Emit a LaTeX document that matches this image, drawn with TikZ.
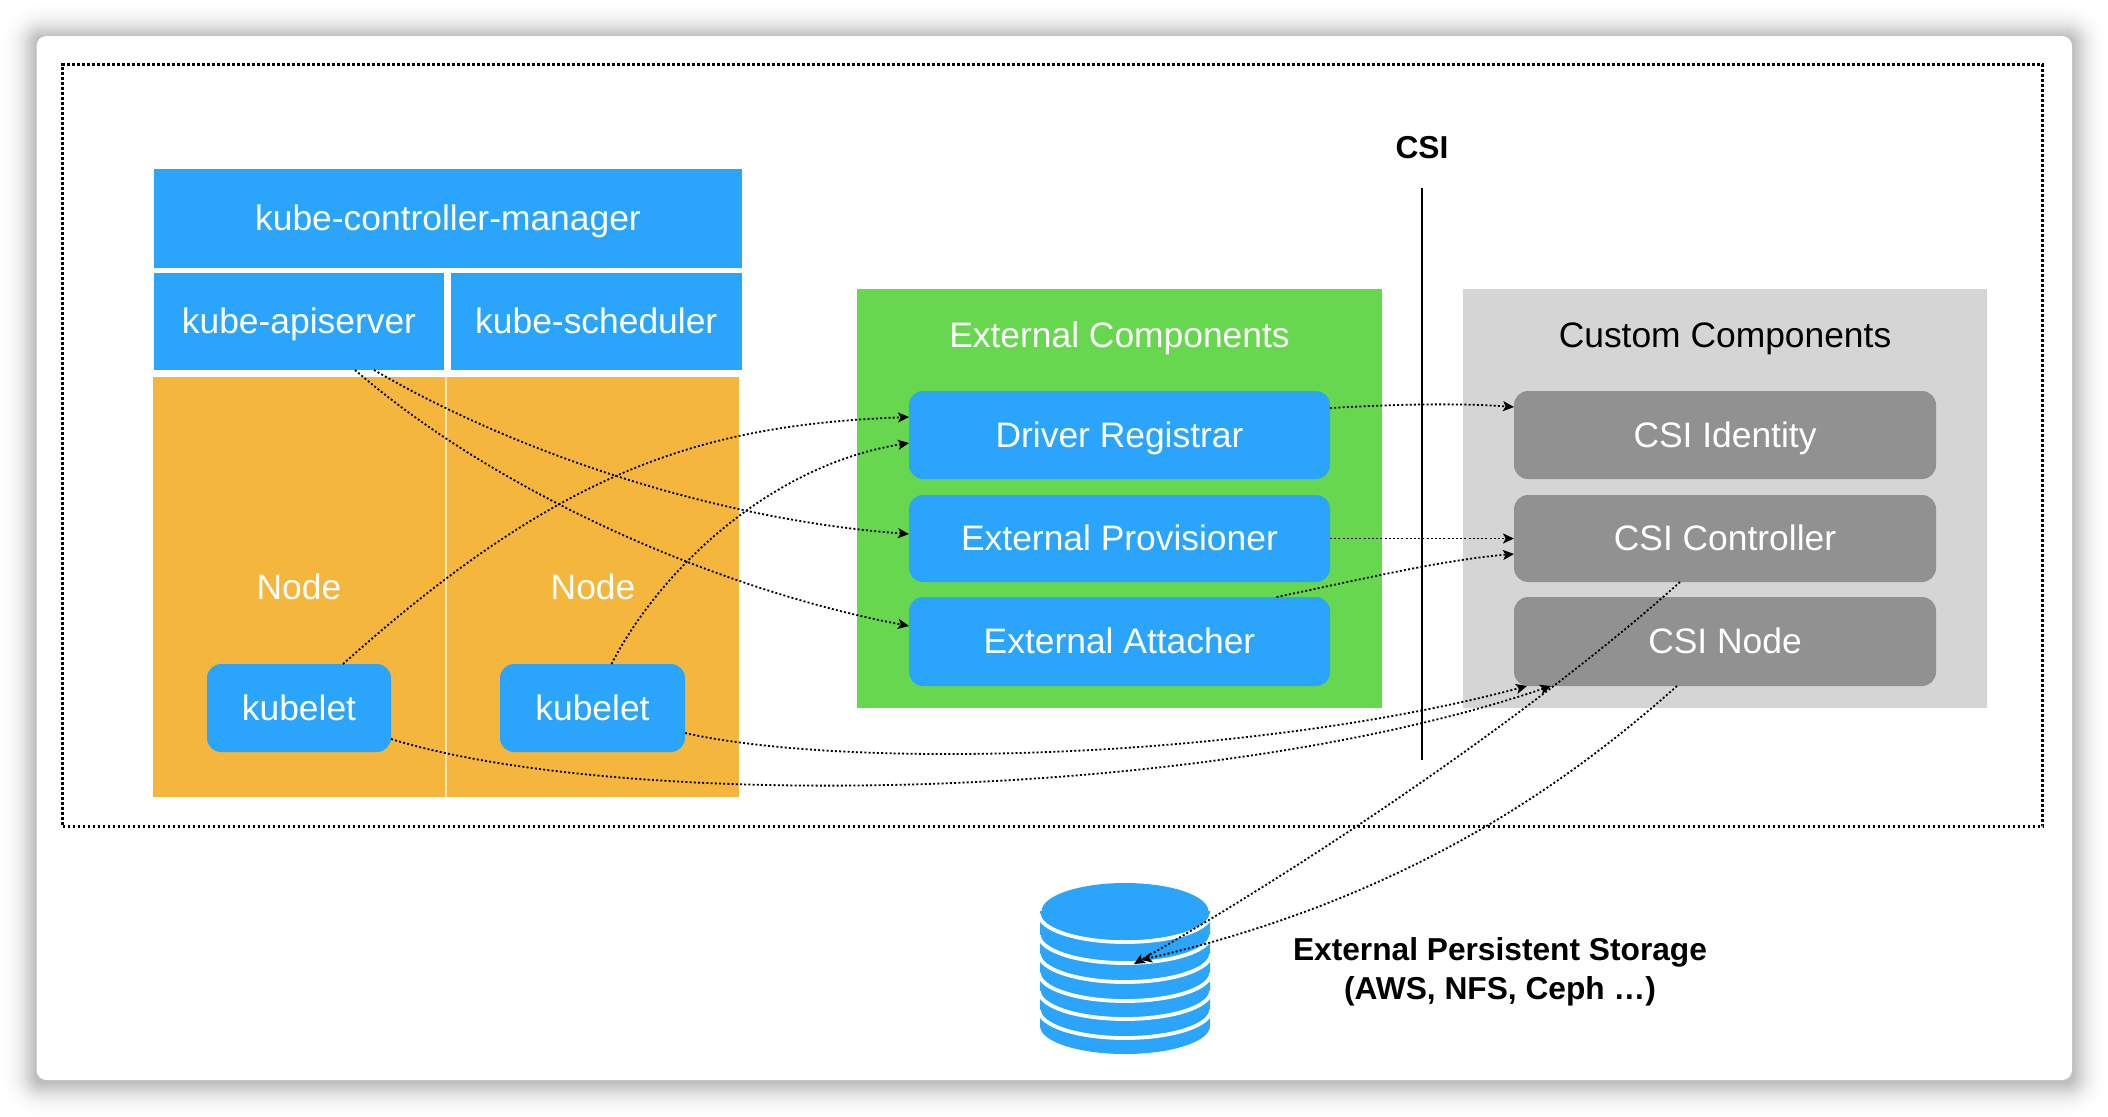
\documentclass[tikz,border=0pt]{standalone}
\usepackage{fontspec}
\setmainfont{Liberation Sans}
\usetikzlibrary{arrows.meta}
\definecolor{kblue}{HTML}{2AA5FB}
\definecolor{korange}{HTML}{F5B63D}
\definecolor{kgreen}{HTML}{67D74F}
\definecolor{kgreyl}{HTML}{D5D5D5}
\definecolor{kgreyd}{HTML}{919191}
\tikzset{
  flat/.style={rectangle,draw=none,inner sep=0pt,outer sep=0pt,align=center},
  lbl/.style={font=\fontsize{17.7}{21}\selectfont,text height=14.8pt,text depth=2.5pt},
  bluerect/.style={flat,lbl,fill=kblue,text=white},
  bluebox/.style={flat,lbl,fill=kblue,text=white,rounded corners=7pt},
  greybox/.style={flat,lbl,fill=kgreyd,text=white,rounded corners=7pt},
  whitetext/.style={lbl,text=white,inner sep=0pt},
  blacktext/.style={lbl,text=black,inner sep=0pt},
  boldtext/.style={text=black,font=\fontsize{15.85}{19.5}\selectfont\bfseries,inner sep=0pt,align=center},
  conn/.style={draw=black,line width=0.9pt,dash pattern=on 1pt off 1.1pt,-{Stealth[length=5.5pt,width=5pt,inset=1.3pt]}},
}
\begin{document}
\begin{tikzpicture}[x=0.5pt,y=-0.5pt]
\useasboundingbox (0,0) rectangle (2108,1116);
\fill[white] (0,0) rectangle (2108,1116);
\begin{scope}
\clip (0,0) rectangle (2108,1116);
\foreach \d [evaluate=\d as \w using {0.03*exp(-\d*\d/450)}] in {40,38,...,2}{
  \fill[black,opacity=\w,rounded corners={(6+\d)*0.5pt}]
    (36.5-\d,36-\d+2) rectangle (2072+\d,1080+\d+2);
}
\end{scope}
\fill[white,rounded corners=5pt] (36.5,36) rectangle (2072,1080);
\node[flat,draw=black,line width=1.2pt,dash pattern=on 1.3pt off 1.2pt,minimum width=990pt,minimum height=381pt] (frame) at (1052.5,445.5) {};
% control plane
\node[bluerect,minimum width=294pt,minimum height=49.5pt] (kcm) at (448,218.5) {kube-controller-manager};
\node[bluerect,minimum width=145pt,minimum height=48.5pt] (api) at (299,321.5) {kube-apiserver};
\node[bluerect,minimum width=145.75pt,minimum height=48.5pt] (sched) at (596.25,321.5) {kube-scheduler};
% nodes
\fill[korange] (153,377) rectangle (739,797);
\draw[white!60!korange,line width=0.6pt] (446,377) -- (446,797);
\node[whitetext] (n1) at (299,587) {Node};
\node[whitetext] (n2) at (593,587) {Node};
\node[bluebox,minimum width=92pt,minimum height=44pt] (k1) at (299,708) {kubelet};
\node[bluebox,minimum width=92.5pt,minimum height=44pt] (k2) at (592.5,708) {kubelet};
% external
\node[flat,fill=kgreen,minimum width=262.5pt,minimum height=209.5pt] (ext) at (1119.5,498.5) {};
\node[whitetext] (extt) at (1119.5,335) {External Components};
\node[bluebox,minimum width=210.5pt,minimum height=44pt] (reg) at (1119.5,435) {Driver Registrar};
\node[bluebox,minimum width=210.5pt,minimum height=43.5pt] (prov) at (1119.5,538.5) {External Provisioner};
\node[bluebox,minimum width=210.5pt,minimum height=44.5pt] (att) at (1119.5,641.5) {External Attacher};
% custom
\node[flat,fill=kgreyl,minimum width=262pt,minimum height=209.5pt] (cus) at (1725,498.5) {};
\node[blacktext] (cust) at (1725,335) {Custom Components};
\node[greybox,minimum width=211pt,minimum height=44pt] (ident) at (1725,435) {CSI Identity};
\node[greybox,minimum width=211pt,minimum height=43.5pt] (ctrl) at (1725,538.5) {CSI Controller};
\node[greybox,minimum width=211pt,minimum height=44.5pt] (csin) at (1725,641.5) {CSI Node};
% CSI line
\node[boldtext] (csi) at (1422,148) {CSI};
\coordinate (lt) at (1422,188);
\coordinate (lb) at (1422,760);
\draw[black,line width=1pt] (lt) -- (lb);
% storage
\fill[kblue] (1040,911) -- (1210,911) -- (1210,1026) arc[start angle=0,end angle=180,x radius=85,y radius=28] -- cycle;
\foreach \c in {914,935,954,973,991,1010}{
  \draw[white,line width=1.9pt] (1211,\c) arc[start angle=0,end angle=180,x radius=86,y radius=28];
}
\fill[kblue] (1125,911.5) ellipse[x radius=83.5,y radius=28.5];
\coordinate (dba) at (1134,964);
\coordinate (dbb) at (1141,960);
\node[boldtext] (stor) at (1500,972) {External Persistent Storage\\(AWS, NFS, Ceph …)};
% connectors
\draw[conn] ([xshift=22pt]k1.north) .. controls (560,470) and (700,425) .. ([yshift=9pt]reg.west);
\draw[conn] ([xshift=9.5pt]k2.north) .. controls (660,570) and (770,465) .. ([yshift=-4pt]reg.west);
\draw[conn] ([xshift=37.5pt]api.south) .. controls (520,455) and (720,520) .. ([yshift=2.25pt]prov.west);
\draw[conn] ([xshift=28pt]api.south) .. controls (500,495) and (720,590) .. ([yshift=7.75pt]att.west);
\draw[conn] ([yshift=13.5pt]reg.east) .. controls (1400,404) and (1460,403) .. ([yshift=14pt]ident.west);
\draw[conn] (prov.east) -- (ctrl.west);
\draw[conn] ([xshift=78.5pt]att.north) .. controls (1350,582) and (1440,560) .. ([yshift=-7.75pt]ctrl.west);
\draw[conn] ([yshift=-12.5pt]k2.east) .. controls (850,770) and (1250,760) .. ([xshift=-99pt]csin.south);
\draw[conn] ([yshift=-15.5pt]k1.east) .. controls (620,810) and (1200,805) .. ([xshift=-87pt]csin.south);
\draw[conn] ([xshift=-22.5pt]ctrl.south) .. controls (1560,690) and (1350,840) .. (dba);
\draw[conn] ([xshift=-24pt]csin.south) .. controls (1560,790) and (1400,900) .. (dbb);
\end{tikzpicture}
\end{document}
